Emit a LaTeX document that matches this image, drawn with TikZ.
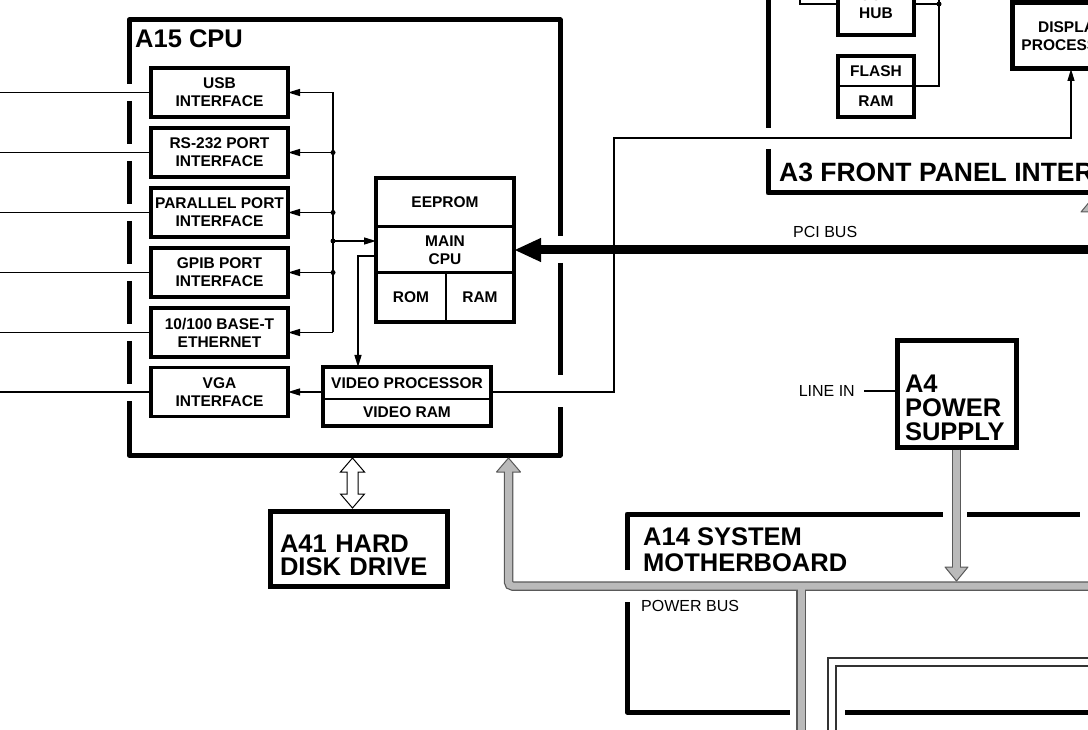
\documentclass[tikz,border=0pt]{standalone}
\usepackage{fontspec}
\setmainfont{Liberation Sans}
\usetikzlibrary{arrows.meta}
\definecolor{busgray}{gray}{0.73}
\definecolor{busedge}{gray}{0.35}
\begin{document}
\begin{tikzpicture}[x=1pt, y=-1pt,
    box/.style={draw, line width=3.5, inner sep=0, outer sep=0, minimum width=137, minimum height=49, align=center, font=\bfseries\fontsize{15.5}{18}\selectfont},
    part/.style={inner sep=0, outer sep=0, align=center, font=\bfseries\fontsize{15.5}{18}\selectfont},
    big/.style={draw, line width=5, inner sep=0, outer sep=0, align=left, font=\bfseries\fontsize{25.5}{24}\selectfont},
    title/.style={inner sep=0, align=left, font=\bfseries\fontsize{25.5}{26}\selectfont},
    lbl/.style={inner sep=0, font=\fontsize{16}{18}\selectfont},
    frame/.style={line width=5, line join=round},
    wire/.style={line width=1.3},
    tip/.style={wire, -{Triangle[length=12pt, width=7pt]}},
    head/.style={fill=busgray, draw=busedge, line width=1, line join=round},
    thinframe/.style={line width=1.2, black!80}]
            \path[use as bounding box] (0,0) rectangle (1088,730);
            \clip (0,0) rectangle (1088,730);

            % A15 CPU board
            \draw[frame] (129,84) -- (129,20) -- (560,20) -- (560,236);
            \draw[frame] (560,263) -- (560,375);
            \draw[frame] (560,407) -- (560,455) -- (129,455) -- (129,401);
            \draw[frame] (129,101) -- (129,144);
            \draw[frame] (129,161) -- (129,204);
            \draw[frame] (129,221) -- (129,264);
            \draw[frame] (129,281) -- (129,324);
            \draw[frame] (129,341) -- (129,384);
            \node[title, anchor=base west] (cpulbl) at (135,48) {A15 CPU};

            \node[box] (usb) at (219.5,92.5) {USB\\INTERFACE};
            \node[box] (rs232) at (219.5,152.5) {RS-232 PORT\\INTERFACE};
            \node[box] (par) at (219.5,212.5) {PARALLEL PORT\\INTERFACE};
            \node[box] (gpib) at (219.5,272.5) {GPIB PORT\\INTERFACE};
            \node[box] (eth) at (219.5,332.5) {10/100 BASE-T\\ETHERNET};
            \node[box] (vga) at (219.5,392) {VGA\\INTERFACE};

            \node[part, minimum width=138, minimum height=49] (eeprom) at (445,202.5) {EEPROM};
            \node[part, minimum width=138, minimum height=46] (maincpu) at (445,250) {MAIN\\CPU};
            \node[part, minimum width=70, minimum height=49] (rom) at (411,297.5) {ROM};
            \node[part, minimum width=68, minimum height=49] (ram) at (480,297.5) {RAM};
            \draw[line width=3.5] (eeprom.north west) rectangle (ram.south east);
            \draw[line width=3] (eeprom.south west) -- (eeprom.south east);
            \draw[line width=3] (rom.north west) -- (ram.north east);
            \draw[wire] (rom.north east) -- (rom.south east);

            \node[part, minimum width=168, minimum height=32] (vproc) at (407,383) {VIDEO PROCESSOR};
            \node[part, minimum width=168, minimum height=27] (vram) at (407,412.5) {VIDEO RAM};
            \draw[line width=3.5] (vproc.north west) rectangle (vram.south east);
            \draw[wire] (vproc.south west) -- (vproc.south east);

            % ports to the back panel
            \coordinate (edgeL) at (-5,0);
            \draw[wire] (usb.west) -- (usb.west -| edgeL);
            \draw[wire] (rs232.west) -- (rs232.west -| edgeL);
            \draw[wire] (par.west) -- (par.west -| edgeL);
            \draw[wire] (gpib.west) -- (gpib.west -| edgeL);
            \draw[wire] (eth.west) -- (eth.west -| edgeL);
            \draw[wire] (vga.west) -- (vga.west -| edgeL);

            % internal bus
            \coordinate (bustop) at (333,92.5);
            \coordinate (busbot) at (333,332.5);
            \coordinate (busmid) at (333,241);
            \draw[wire] (bustop) -- (busbot);
            \draw[tip] (bustop) -- (usb.east);
            \draw[tip] (rs232.east -| bustop) -- (rs232.east);
            \draw[tip] (par.east -| bustop) -- (par.east);
            \draw[tip] (gpib.east -| bustop) -- (gpib.east);
            \draw[tip] (busbot) -- (eth.east);
            \draw[tip] (busmid) -- (busmid -| maincpu.west);
            \fill (rs232.east -| bustop) circle (2.5);
            \fill (par.east -| bustop) circle (2.5);
            \fill (busmid) circle (2.5);
            \fill (gpib.east -| bustop) circle (2.5);
            \draw[tip] ([yshift=-6]maincpu.west) -| ([xshift=-49]vproc.north);
            \draw[tip] (vga.east -| vproc.west) -- (vga.east);

            % A3 front panel interface
            \draw[frame] (768,-5) -- (768,128);
            \draw[frame] (768,149) |- (1093,193);
            \node[title, anchor=base west, font=\bfseries\fontsize{26.5}{28}\selectfont] (a3lbl) at (779,182) {A3 FRONT PANEL INTERFACE};
            \node[part, draw, line width=3.5, minimum width=76, minimum height=62] (hub) at (876,4) {USB\\HUB};
            \node[part, minimum width=76, minimum height=30] (flash) at (876,71) {FLASH};
            \node[part, minimum width=76, minimum height=31] (fram) at (876,101.5) {RAM};
            \draw[line width=3.5] (flash.north west) rectangle (fram.south east);
            \draw[wire] (flash.south west) -- (flash.south east);
            \node[part, draw, line width=5, minimum width=118, minimum height=66] (disp) at (1071,36) {DISPLAY\\PROCESSOR};
            \coordinate (hubin) at (800,-5);
            \coordinate (hubup) at (939,-5);
            \coordinate (hubj) at (939,4);
            \coordinate (dispup) at (1071,-5);
            \draw[wire] (hubin) |- (hub.west);
            \draw[wire] (hub.east) -- (hubj);
            \draw[wire] (hubup) -- (hubj) |- (flash.south east);
            \fill (hubj) circle (2.5);
            \draw[wire] (dispup) -- (disp.north);
            \filldraw[head] (1091,200) -- (1101,212) -- (1081,212) -- cycle;

            % video to display processor
            \coordinate (vpbend) at (614,138);
            \draw[tip] (vga.east -| vproc.east) -| (vpbend) -| (disp.south);

            % PCI bus
            \coordinate (pciR) at (1093,250);
            \draw[line width=9, -{Triangle[length=27pt, width=22pt]}] (pciR) -- (maincpu.east);
            \node[lbl, anchor=west] (pcilbl) at (793,232) {PCI BUS};

            % hard disk
            \node[big, minimum width=177, minimum height=75, text width=157, text depth=10, font=\bfseries\fontsize{25.5}{23}\selectfont] (hdd) at (358.5,548.5) {A41 HARD\\DISK DRIVE};
            \coordinate (hddtop) at (352.5,458);
            \draw[line width=1, fill=white] (hddtop) -- ++(12,14) -- ++(-6.5,0) -- ++(0,22) -- ++(6.5,0) -- ++(-12,14) -- ++(-12,-14) -- ++(6.5,0) -- ++(0,-22) -- ++(-6.5,0) -- cycle;

            % power supply
            \node[big, minimum width=119, minimum height=106, text width=103, text depth=20] (psu) at (956.5,394) {A4\\POWER\\SUPPLY};
            \node[lbl, anchor=east] (linein) at (855,391) {LINE IN};
            \draw[wire] ([xshift=9]linein.east) -- (linein.east -| psu.west);

            % A14 system motherboard
            \draw[frame] (627,570) -- (627,514) -- (943,514);
            \draw[frame] (967,514) -- (1080,514);
            \draw[frame] (627,602) -- (627,712) -- (790,712);
            \draw[thinframe] (828,735) |- (1093,658);
            \draw[thinframe] (836,735) |- (1093,666);
            \draw[frame] (845,712) -- (1093,712);
            \node[title, anchor=north west] (mobo) at (643,527) {A14 SYSTEM\\MOTHERBOARD};
            \node[lbl, anchor=west] (pwrlbl) at (641,606) {POWER BUS};

            % power bus
            \coordinate (pwrtip) at (508.5,458);
            \coordinate (psutip) at (956.5,581);
            \coordinate (pwrcorner) at (508.5,586);
            \coordinate (pwrR) at (1093,586);
            \coordinate (pwrdown) at (801,735);
            \filldraw[head] (pwrtip) -- ++(12,14) -- ++(-24,0) -- cycle;
            \filldraw[head] (psutip) -- ++(11.5,-14) -- ++(-23,0) -- cycle;
            \draw[line width=9.5, busedge, rounded corners=4] ([yshift=-14]pwrtip) -- (pwrcorner) -- (pwrR);
            \draw[line width=9.5, busedge] (pwrcorner -| pwrdown) -- (pwrdown);
            \draw[line width=9.5, busedge] ([yshift=-2.5]psu.south) -- ([yshift=14]psutip);
            \draw[line width=7, busgray, rounded corners=4] ([yshift=-13]pwrtip) -- (pwrcorner) -- (pwrR);
            \draw[line width=7, busgray] (pwrcorner -| pwrdown) -- (pwrdown);
            \draw[line width=7, busgray] ([yshift=-2.5]psu.south) -- ([yshift=13]psutip);

        \end{tikzpicture}
\end{document}
